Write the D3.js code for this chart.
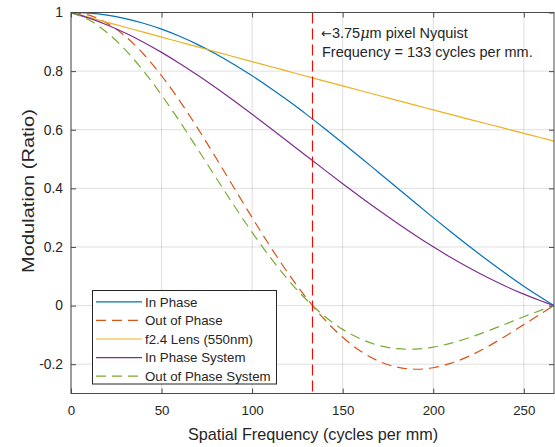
<!DOCTYPE html>
<html>
<head>
<meta charset="utf-8">
<script src="https://cdn.jsdelivr.net/npm/d3@7"></script>
<style>
  html, body { margin: 0; padding: 0; background: #ffffff; }
  svg { display: block; }
  text { font-family: "Liberation Sans", Arial, Helvetica, sans-serif; fill: #262626; }
</style>
</head>
<body>
<svg id="chart" width="555" height="447"></svg>
<script>
// ---------- data ----------
const freq = [0, 10, 20, 30, 40, 50, 60, 70, 80, 90, 100, 110, 120, 130, 140, 150, 160, 170, 180, 190, 200, 210, 220, 230, 240, 250, 260, 266.67];
const inPhase = [1, 0.9977, 0.9908, 0.9793, 0.9634, 0.9432, 0.9188, 0.8904, 0.8584, 0.8229, 0.7842, 0.7427, 0.6987, 0.6524, 0.6044, 0.5550, 0.5046, 0.4534, 0.4021, 0.3508, 0.3001, 0.2502, 0.2016, 0.1545, 0.1093, 0.0662, 0.0256, 0];
const outPhase = [1, 0.9908, 0.9634, 0.9188, 0.8584, 0.7842, 0.6987, 0.6044, 0.5046, 0.4021, 0.3001, 0.2016, 0.1093, 0.0256, -0.0474, -0.1083, -0.1559, -0.1898, -0.2101, -0.2172, -0.2122, -0.1965, -0.1719, -0.1403, -0.1039, -0.0650, -0.0255, 0];
const lens = [1, 0.9832, 0.9664, 0.9496, 0.9328, 0.9160, 0.8993, 0.8825, 0.8658, 0.8491, 0.8324, 0.8158, 0.7992, 0.7826, 0.7661, 0.7496, 0.7331, 0.7167, 0.7003, 0.6841, 0.6678, 0.6516, 0.6355, 0.6195, 0.6035, 0.5876, 0.5718, 0.5612];
const inPhaseSystem = [1, 0.9809, 0.9575, 0.9299, 0.8987, 0.8640, 0.8263, 0.7858, 0.7432, 0.6987, 0.6528, 0.6059, 0.5584, 0.5106, 0.4630, 0.4160, 0.3699, 0.3250, 0.2816, 0.2400, 0.2004, 0.1630, 0.1281, 0.0957, 0.0660, 0.0389, 0.0146, 0];
const outPhaseSystem = [1, 0.9742, 0.9310, 0.8725, 0.8007, 0.7183, 0.6283, 0.5334, 0.4369, 0.3414, 0.2498, 0.1645, 0.0874, 0.0200, -0.0363, -0.0812, -0.1143, -0.1360, -0.1471, -0.1486, -0.1417, -0.1280, -0.1092, -0.0869, -0.0627, -0.0382, -0.0146, 0];

const seriesNames = ["In Phase", "Out of Phase", "f2.4 Lens (550nm)", "In Phase System", "Out of Phase System"];
const seriesValues = [inPhase, outPhase, lens, inPhaseSystem, outPhaseSystem];
const seriesColors = ["#0072BD", "#D95319", "#EDB120", "#7E2F8E", "#77AC30"];
const seriesDashed = [false, true, false, false, true];

const xTicks = [0, 50, 100, 150, 200, 250];
const yTicks = [-0.2, 0, 0.2, 0.4, 0.6, 0.8, 1];
const yTickLabels = ["-0.2", "0", "0.2", "0.4", "0.6", "0.8", "1"];
const xDomain = [0, 266.67];
const yDomain = [-0.3, 1];
const nyquist = 133.33;

const xLabel = "Spatial Frequency (cycles per mm)";
const yLabel = "Modulation (Ratio)";

// ---------- layout ----------
const svg = d3.select("#chart");
const L = 71, R = 554, T = 12.5, B = 393.5;
const x = d3.scaleLinear().domain(xDomain).range([L, R]);
const y = d3.scaleLinear().domain(yDomain).range([B, T]);

const axisColor = "#262626";
const boxColor = "#4a4a4a";
const tickLen = 5;
const dash = "10,6";

// grid
const grid = svg.append("g");
grid.selectAll(".gx").data(xTicks).enter().append("line")
  .attr("x1", d => x(d)).attr("x2", d => x(d)).attr("y1", T).attr("y2", B)
  .attr("stroke", axisColor).attr("stroke-opacity", 0.15).attr("stroke-width", 1);
grid.selectAll(".gy").data(yTicks).enter().append("line")
  .attr("x1", L).attr("x2", R).attr("y1", d => y(d)).attr("y2", d => y(d))
  .attr("stroke", axisColor).attr("stroke-opacity", 0.15).attr("stroke-width", 1);

// clip
svg.append("clipPath").attr("id", "clip").append("rect")
  .attr("x", L).attr("y", T).attr("width", R - L).attr("height", B - T);

const plot = svg.append("g").attr("clip-path", "url(#clip)");

const line = d3.line().x(d => x(d[0])).y(d => y(d[1])).curve(d3.curveCatmullRom);

seriesValues.forEach((vals, i) => {
  plot.append("path")
    .datum(freq.map((f, j) => [f, vals[j]]))
    .attr("d", line)
    .attr("fill", "none")
    .attr("stroke", seriesColors[i])
    .attr("stroke-width", 1.2)
    .attr("stroke-dasharray", seriesDashed[i] ? dash : null);
});

// nyquist line
plot.append("line")
  .attr("x1", x(nyquist)).attr("x2", x(nyquist)).attr("y1", T).attr("y2", B)
  .attr("stroke", "#ff0000").attr("stroke-width", 1.1).attr("stroke-dasharray", "11,5");

// axes (D3 axes with inward ticks)
const xAxisB = d3.axisBottom(x).tickValues(xTicks).tickSize(-tickLen).tickPadding(12).tickFormat(d3.format("d"));
const xAxisT = d3.axisTop(x).tickValues(xTicks).tickSize(-tickLen).tickFormat("");
const yAxisL = d3.axisLeft(y).tickValues(yTicks).tickSize(-tickLen).tickPadding(8).tickFormat((d, i) => yTickLabels[i]);
const yAxisR = d3.axisRight(y).tickValues(yTicks).tickSize(-tickLen).tickFormat("");

function styleAxis(g, size) {
  g.select(".domain").remove();
  g.selectAll(".tick line").attr("stroke", boxColor).attr("stroke-width", 1);
  g.selectAll(".tick text").attr("fill", axisColor).style("font-size", size + "px")
    .style("font-family", '"Liberation Sans", Arial, sans-serif');
}
svg.append("g").attr("transform", `translate(0,${B})`).call(xAxisB).call(styleAxis, 13.3);
svg.append("g").attr("transform", `translate(0,${T})`).call(xAxisT).call(styleAxis, 13.3);
svg.append("g").attr("transform", `translate(${L},0)`).call(yAxisL).call(styleAxis, 13.8);
svg.append("g").attr("transform", `translate(${R},0)`).call(yAxisR).call(styleAxis, 13.3);

// box
svg.append("rect").attr("x", L).attr("y", T).attr("width", R - L).attr("height", B - T)
  .attr("fill", "none").attr("stroke", boxColor).attr("stroke-width", 1);

// labels
svg.append("text").attr("x", (L + R) / 2 + 0.5).attr("y", 440)
  .attr("text-anchor", "middle").style("font-size", "16.2px").text(xLabel);
svg.append("text").attr("transform", `translate(34,${191}) rotate(-90) scale(1.18,1)`)
  .attr("text-anchor", "middle").style("font-size", "17px").text(yLabel);

// annotation
const ann = svg.append("text").attr("x", x(nyquist) + 8.5).attr("y", 37.5).style("font-size", "14.5px");
ann.append("tspan").style("font-family", '"DejaVu Sans", sans-serif').style("font-size", "13px").text("\u2190");
ann.append("tspan").text("3.75");
ann.append("tspan").style("font-style", "italic").style("font-family", '"DejaVu Serif", serif').text("\u03bc");
ann.append("tspan").text("m pixel Nyquist");
svg.append("text").attr("x", x(nyquist) + 9.5).attr("y", 56.5).style("font-size", "14.5px")
  .text("Frequency = 133 cycles per mm.");

// legend
const lg = svg.append("g");
const lgX = 92.5, lgY = 290.5, lgW = 184, lgH = 93.5, rowH = 18.6;
lg.append("rect").attr("x", lgX).attr("y", lgY).attr("width", lgW).attr("height", lgH)
  .attr("fill", "#ffffff").attr("stroke", axisColor).attr("stroke-width", 1);
seriesNames.forEach((name, i) => {
  const cy = lgY + 11.3 + i * rowH;
  lg.append("line").attr("x1", lgX + 3.5).attr("x2", lgX + 49.5).attr("y1", cy).attr("y2", cy)
    .attr("stroke", seriesColors[i]).attr("stroke-width", 1.2)
    .attr("stroke-dasharray", seriesDashed[i] ? dash : null);
  lg.append("text").attr("x", lgX + 52.5).attr("y", cy + 4.8).style("font-size", "13.3px").text(name);
});
</script>
</body>
</html>
